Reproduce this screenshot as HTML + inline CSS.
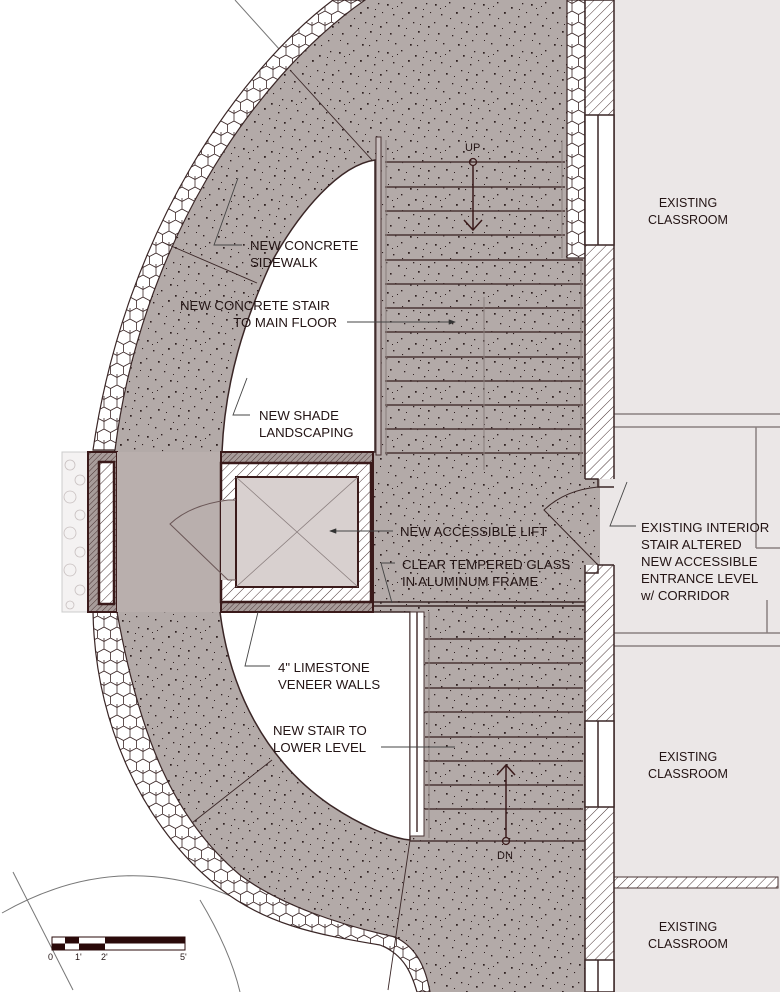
<!DOCTYPE html>
<html><head><meta charset="utf-8"><style>
html,body{margin:0;padding:0;background:#fff;}
svg{display:block;}
text{font-family:"Liberation Sans",Arial,sans-serif;fill:#231414;}
</style></head><body>
<svg width="780" height="992" viewBox="0 0 780 992" xmlns="http://www.w3.org/2000/svg">
<defs>
<pattern id="conc" width="48" height="48" patternUnits="userSpaceOnUse">
<rect width="48" height="48" fill="#b3aaa8"/>
<g fill="#2f2020">
<rect x="3" y="4" width="1.7" height="1.7"/><rect x="17" y="2" width="1.4" height="1.4"/><rect x="31" y="7" width="1.7" height="1.7"/><rect x="42" y="3" width="1.3" height="1.3"/>
<rect x="9" y="14" width="1.4" height="1.4"/><rect x="24" y="12" width="1.8" height="1.8"/><rect x="38" y="16" width="1.4" height="1.4"/><rect x="2" y="22" width="1.3" height="1.3"/>
<rect x="14" y="25" width="1.7" height="1.7"/><rect x="29" y="22" width="1.3" height="1.3"/><rect x="44" y="26" width="1.7" height="1.7"/><rect x="6" y="33" width="1.6" height="1.6"/>
<rect x="20" y="35" width="1.3" height="1.3"/><rect x="34" y="31" width="1.7" height="1.7"/><rect x="11" y="43" width="1.4" height="1.4"/><rect x="26" y="44" width="1.7" height="1.7"/>
<rect x="40" y="40" width="1.3" height="1.3"/><rect x="46" y="12" width="1.1" height="1.1"/><rect x="33" y="45" width="1.1" height="1.1"/><rect x="18" y="18" width="1.1" height="1.1"/>
<rect x="8" y="8" width="1" height="1"/><rect x="36" y="24" width="1" height="1"/><rect x="22" y="28" width="1" height="1"/><rect x="44" y="34" width="1" height="1"/>
<rect x="4" y="40" width="1" height="1"/><rect x="29" y="38" width="1" height="1"/><rect x="13" y="6" width="1" height="1"/><rect x="39" y="9" width="1" height="1"/>
</g></pattern>
<pattern id="hex" width="13" height="22" patternUnits="userSpaceOnUse">
<rect width="13" height="22" fill="#fff"/>
<path d="M0,3.5 L6.5,0 L13,3.5 L13,11 L6.5,14.5 L0,11 Z M6.5,14.5 L6.5,22 M0,3.5 L0,0 M13,3.5 L13,0" fill="none" stroke="#3a2626" stroke-width="0.8"/>
</pattern>
<pattern id="hatch" width="7" height="7" patternUnits="userSpaceOnUse" patternTransform="rotate(45)">
<rect width="7" height="7" fill="#fff"/><line x1="0" y1="0" x2="0" y2="7" stroke="#4a3434" stroke-width="1"/>
</pattern>
<pattern id="hatchg" width="4" height="4" patternUnits="userSpaceOnUse" patternTransform="rotate(45)">
<rect width="4" height="4" fill="#a89c9a"/><line x1="0" y1="0" x2="0" y2="4" stroke="#4a3434" stroke-width="1"/>
</pattern>
<marker id="ar" markerWidth="8" markerHeight="6" refX="7" refY="3" orient="auto"><path d="M0,0 L8,3 L0,6 Z" fill="#333"/></marker>
</defs>

<rect x="614" y="0" width="166" height="992" fill="#ebe7e7"/>
<g stroke="#8a8080" stroke-width="1.5" fill="none">
<line x1="614" y1="414" x2="780" y2="414"/><line x1="614" y1="427" x2="780" y2="427"/>
<line x1="756" y1="427" x2="756" y2="548"/><line x1="756" y1="548" x2="780" y2="548"/>
<line x1="614" y1="633" x2="780" y2="633"/><line x1="614" y1="646" x2="780" y2="646"/>
<line x1="767" y1="600" x2="767" y2="633"/>
</g>
<rect x="614" y="877" width="164" height="11" fill="url(#hatch)" stroke="#4a3434"/>

<g stroke="#777" stroke-width="1" fill="none">
<line x1="235" y1="0" x2="280" y2="50"/>
<path d="M2,913 Q130,840 260,910"/>
<line x1="13" y1="872" x2="73" y2="990"/>
<path d="M200,900 Q230,950 240,992"/>
</g>

<path d="M333,0 C240,70 125,230 93,450 L93,610 C95,720 140,820 210,880 C260,925 320,935 380,945 C405,955 412,975 417,992 L585,992 L585,258 L567,258 L567,0 Z" fill="url(#conc)"/>
<path d="M333,0 C240,70 125,230 93,450 L115,450 C140,250 250,80 365,0 Z" fill="url(#hex)" stroke="#3a2626" stroke-width="1.2"/>
<path d="M93,612 C95,720 140,820 210,880 C260,925 320,935 380,945 C405,955 412,975 417,992 L430,992 C426,970 418,948 395,937 C340,925 280,905 240,875 C175,820 140,740 117,612 Z" fill="url(#hex)" stroke="#3a2626" stroke-width="1.2"/>
<rect x="567" y="0" width="18" height="258" fill="url(#hex)" stroke="#3a2626" stroke-width="1.2"/>

<path d="M375,160 C340,165 300,210 270,265 C245,320 225,380 222,452 L375,452 Z" fill="#fff" stroke="#3a2626" stroke-width="1.5"/>
<path d="M220,612 C230,690 265,760 330,805 C360,825 390,838 410,840 L410,612 Z" fill="#fff" stroke="#3a2626" stroke-width="1.5"/>

<g stroke="#3a2626" stroke-width="0.9" fill="none">
<line x1="290" y1="70" x2="372" y2="160"/>
<line x1="162" y1="242" x2="257" y2="283"/>
<line x1="192" y1="823" x2="272" y2="760"/>
<line x1="410" y1="840" x2="388" y2="990"/>
</g>

<g stroke="#4a3434" stroke-width="1.4">
<line x1="385" y1="162" x2="565" y2="162"/><line x1="385" y1="187" x2="565" y2="187"/><line x1="385" y1="211" x2="565" y2="211"/><line x1="385" y1="235" x2="565" y2="235"/>
<line x1="385" y1="260" x2="583" y2="260"/><line x1="385" y1="284" x2="583" y2="284"/><line x1="385" y1="308" x2="583" y2="308"/><line x1="385" y1="332" x2="583" y2="332"/>
<line x1="385" y1="357" x2="583" y2="357"/><line x1="385" y1="381" x2="583" y2="381"/><line x1="385" y1="405" x2="583" y2="405"/><line x1="385" y1="429" x2="583" y2="429"/><line x1="385" y1="453" x2="583" y2="453"/>
</g>
<g stroke="#8a7e7c" stroke-width="1"><line x1="484" y1="297" x2="484" y2="470"/><line x1="562" y1="140" x2="562" y2="258"/><line x1="581" y1="262" x2="581" y2="470"/><line x1="386" y1="140" x2="386" y2="455"/></g>
<rect x="376" y="137" width="5" height="318" fill="#c8bebe" stroke="#4a3434" stroke-width="1"/>
<g stroke="#4a3434" stroke-width="1.4">
<line x1="425" y1="639" x2="583" y2="639"/><line x1="425" y1="663" x2="583" y2="663"/><line x1="425" y1="688" x2="583" y2="688"/><line x1="425" y1="712" x2="583" y2="712"/>
<line x1="425" y1="737" x2="583" y2="737"/><line x1="425" y1="761" x2="583" y2="761"/><line x1="425" y1="785" x2="583" y2="785"/><line x1="425" y1="809" x2="583" y2="809"/>
<line x1="410" y1="841" x2="585" y2="841"/>
</g>
<line x1="429" y1="612" x2="429" y2="838" stroke="#8a7e7c"/>
<rect x="410" y="612" width="14" height="224" fill="#fff" stroke="#4a3434" stroke-width="1"/>
<line x1="417" y1="612" x2="417" y2="832" stroke="#4a3434" stroke-width="1.5"/>
<line x1="373" y1="602" x2="585" y2="602" stroke="#3a2626" stroke-width="1.5"/>
<line x1="373" y1="606" x2="585" y2="606" stroke="#3a2626" stroke-width="1.5"/>

<rect x="585" y="0" width="29" height="992" fill="url(#hatch)" stroke="#3a2626" stroke-width="1.5"/>
<g fill="#fff" stroke="#3a2626" stroke-width="1.5">
<rect x="585" y="115" width="29" height="130"/><rect x="585" y="721" width="29" height="86"/><rect x="585" y="960" width="29" height="32"/>
</g>
<g stroke="#3a2626" stroke-width="1.5"><line x1="598" y1="115" x2="598" y2="245"/><line x1="598" y1="721" x2="598" y2="807"/><line x1="598" y1="960" x2="598" y2="992"/></g>
<rect x="584" y="479" width="31" height="86" fill="#ebe7e7"/>
<rect x="560" y="479" width="40" height="86" fill="url(#conc)"/>
<path d="M585,479 L598,479 L598,487 L614,487 M614,565 L598,565 L598,573 L585,573" fill="none" stroke="#3a2626" stroke-width="1.5"/>
<path d="M598,487 Q565,490 544,510 L598,565" fill="none" stroke="#3a2626" stroke-width="1"/>

<rect x="62" y="452" width="26" height="160" fill="#f4f2f2" stroke="#ccc"/>
<g fill="none" stroke="#c8c0c0" stroke-width="0.8"><circle cx="70" cy="465" r="5"/><circle cx="80" cy="480" r="5"/><circle cx="70" cy="497" r="6"/><circle cx="80" cy="515" r="5"/><circle cx="70" cy="533" r="6"/><circle cx="80" cy="552" r="5"/><circle cx="70" cy="570" r="6"/><circle cx="80" cy="590" r="5"/><circle cx="70" cy="605" r="4"/></g>
<rect x="88" y="452" width="29" height="160" fill="url(#hatchg)" stroke="#3a1a1a" stroke-width="2"/>
<rect x="99" y="462" width="15" height="142" fill="url(#hatch)" stroke="#3a1a1a" stroke-width="2.5"/>
<rect x="117" y="452" width="104" height="160" fill="#b9afad"/>
<rect x="221" y="452" width="152" height="160" fill="url(#hatchg)" stroke="#3a1a1a" stroke-width="2"/>
<rect x="221" y="463" width="150" height="139" fill="url(#hatch)" stroke="#3a1a1a" stroke-width="2.5"/>
<rect x="221" y="500" width="16" height="80" fill="#cec6c4"/>
<rect x="236" y="477" width="122" height="110" fill="#d8d0cf" stroke="#3a1a1a" stroke-width="2"/>
<g stroke="#8a7e7e" stroke-width="0.8"><line x1="236" y1="477" x2="358" y2="587"/><line x1="358" y1="477" x2="236" y2="587"/></g>
<path d="M236,500 L228,500 Q190,505 170,524 L228,580 L236,580" fill="none" stroke="#6a5656" stroke-width="1"/>

<circle cx="473" cy="162" r="3.5" fill="none" stroke="#3a1a1a" stroke-width="1.3"/>
<line x1="473" y1="166" x2="473" y2="230" stroke="#3a1a1a" stroke-width="1.5"/>
<path d="M464,220 L473,230 L482,220" fill="none" stroke="#3a1a1a" stroke-width="1.5"/>
<text x="465" y="151" font-size="11">UP</text>
<circle cx="506" cy="841" r="3.5" fill="none" stroke="#3a1a1a" stroke-width="1.3"/>
<line x1="506" y1="837" x2="506" y2="765" stroke="#3a1a1a" stroke-width="1.5"/>
<path d="M497,775 L506,765 L515,775" fill="none" stroke="#3a1a1a" stroke-width="1.5"/>
<text x="497" y="859" font-size="11">DN</text>

<g stroke="#444" stroke-width="0.9" fill="none">
<polyline points="242,245 214,245 238,178"/>
<line x1="347" y1="322" x2="455" y2="322" marker-end="url(#ar)"/>
<polyline points="250,415 233,415 247,378"/>
<line x1="393" y1="531" x2="330" y2="531" marker-end="url(#ar)"/>
<polyline points="395,563 381,563 392,603"/>
<polyline points="636,526 610,526 627,482"/>
<polyline points="270,666 245,666 258,612"/>
<line x1="381" y1="747" x2="455" y2="747"/>
</g>

<g font-size="13.2">
<text x="250" y="250">NEW CONCRETE</text><text x="250" y="267">SIDEWALK</text>
<text x="180" y="310">NEW CONCRETE STAIR</text><text x="337" y="327" text-anchor="end">TO MAIN FLOOR</text>
<text x="259" y="420">NEW SHADE</text><text x="259" y="437">LANDSCAPING</text>
<text x="400" y="536">NEW ACCESSIBLE LIFT</text>
<text x="402" y="569">CLEAR TEMPERED GLASS</text><text x="402" y="586">IN ALUMINUM FRAME</text>
<text x="641" y="532">EXISTING INTERIOR</text><text x="641" y="549">STAIR ALTERED</text><text x="641" y="566">NEW ACCESSIBLE</text><text x="641" y="583">ENTRANCE LEVEL</text><text x="641" y="600">w/ CORRIDOR</text>
<text x="278" y="672">4" LIMESTONE</text><text x="278" y="689">VENEER WALLS</text>
<text x="273" y="735">NEW STAIR TO</text><text x="273" y="752">LOWER LEVEL</text>
</g>
<g font-size="12.5" text-anchor="middle">
<text x="688" y="207">EXISTING</text><text x="688" y="224">CLASSROOM</text>
<text x="688" y="761">EXISTING</text><text x="688" y="778">CLASSROOM</text>
<text x="688" y="931">EXISTING</text><text x="688" y="948">CLASSROOM</text>
</g>

<rect x="52" y="937" width="133" height="13" fill="#fff" stroke="#2a0a0a" stroke-width="1"/>
<g fill="#2a0a0a">
<rect x="65" y="937" width="14" height="6.5"/><rect x="105" y="937" width="80" height="6.5"/>
<rect x="52" y="943.5" width="13" height="6.5"/><rect x="79" y="943.5" width="26" height="6.5"/>
</g>
<g font-size="9"><text x="48" y="960">0</text><text x="75" y="960">1'</text><text x="101" y="960">2'</text><text x="180" y="960">5'</text></g>
</svg>
</body></html>
